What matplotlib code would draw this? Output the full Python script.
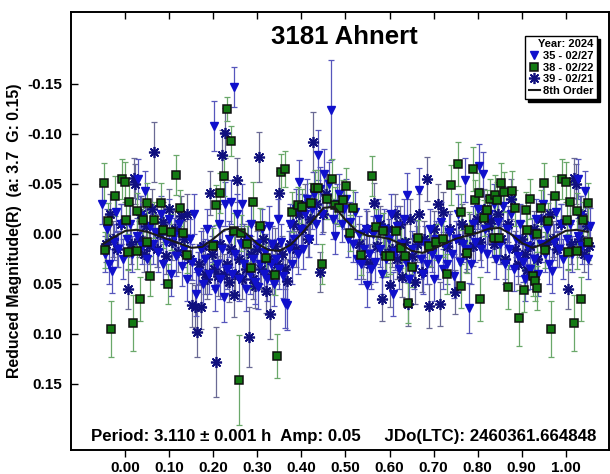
import numpy as np
import matplotlib
matplotlib.use("Agg")
import matplotlib.pyplot as plt
from matplotlib.lines import Line2D

plt.rcParams.update({
    "font.family": "Liberation Sans", "font.weight": "bold",
    "axes.linewidth": 1.4, "xtick.major.width": 1.0, "ytick.major.width": 1.0,
})

# ---- session 35 (2024-02-27): phase, reduced mag, error ----
ph35 = [0.004, 0.010, 0.015, 0.029, 0.027, 0.033, 0.038, 0.044, 0.050, 0.056,
        0.062, 0.068, 0.074, 0.080, 0.086, 0.092, 0.098, 0.104, 0.110, 0.116,
        0.122, 0.128, 0.134, 0.140, 0.146, 0.151, 0.156, 0.161, 0.166, 0.171,
        0.176, 0.181, 0.186, 0.191, 0.196, 0.201, 0.204, 0.208, 0.212, 0.216,
        0.220, 0.223, 0.227, 0.231, 0.235, 0.239, 0.243, 0.247, 0.250, 0.254,
        0.258, 0.262, 0.266, 0.270, 0.274, 0.278, 0.282, 0.286, 0.290, 0.294,
        0.298, 0.302, 0.306, 0.310, 0.314, 0.318, 0.322, 0.326, 0.330, 0.334,
        0.338, 0.342, 0.346, 0.350, 0.354, 0.358, 0.362, 0.367, 0.371, 0.375,
        0.379, 0.383, 0.387, 0.391, 0.395, 0.399, 0.403, 0.408, 0.413, 0.418,
        0.423, 0.428, 0.433, 0.437, 0.442, 0.447, 0.452, 0.457, 0.462, 0.467,
        0.472, 0.476, 0.481, 0.486, 0.491, 0.496, 0.501, 0.506, 0.511, 0.516,
        0.521, 0.526, 0.531, 0.536, 0.541, 0.546, 0.549, 0.553, 0.558, 0.563,
        0.568, 0.573, 0.578, 0.583, 0.588, 0.593, 0.598, 0.603, 0.607, 0.612,
        0.617, 0.622, 0.627, 0.632, 0.637, 0.640, 0.645, 0.650, 0.655, 0.660,
        0.666, 0.671, 0.676, 0.681, 0.686, 0.691, 0.696, 0.701, 0.706, 0.711,
        0.716, 0.721, 0.726, 0.731, 0.736, 0.741, 0.746, 0.751, 0.756, 0.761,
        0.766, 0.772, 0.776, 0.781, 0.785, 0.790, 0.795, 0.800, 0.804, 0.808,
        0.812, 0.817, 0.822, 0.827, 0.832, 0.837, 0.842, 0.847, 0.852, 0.857,
        0.862, 0.867, 0.872, 0.877, 0.882, 0.887, 0.892, 0.897, 0.903, 0.908,
        0.913, 0.918, 0.923, 0.928, 0.933, 0.938, 0.943, 0.948, 0.953, 0.958,
        0.963, 0.969, 0.974, 0.979, 0.984, 0.989, 0.994]
mag35 = [0.005, -0.010, 0.020, -0.055, 0.002, -0.018, 0.012, -0.043, 0.025, -0.008,
         0.010, -0.002, 0.018, -0.020, 0.030, 0.008, -0.015, 0.040, 0.002, 0.022,
         -0.010, 0.032, 0.015, 0.045, 0.005, 0.028, -0.020, 0.060, 0.038, 0.015,
         0.050, 0.025, -0.005, 0.040, 0.010, -0.108, 0.055, 0.030, -0.010, 0.045,
         0.015, 0.063, -0.030, 0.035, 0.005, -0.032, 0.040, -0.147, 0.020, -0.020,
         0.045, 0.010, -0.030, 0.030, 0.055, 0.005, 0.040, -0.010, 0.025, 0.048,
         0.010, 0.053, 0.030, -0.005, 0.040, 0.018, 0.045, -0.008, 0.030, 0.010,
         0.050, 0.025, -0.015, 0.035, 0.008, 0.042, 0.069, 0.071, 0.015, -0.010,
         0.030, 0.005, -0.025, 0.020, -0.052, -0.005, 0.015, -0.020, -0.035, 0.005,
         -0.025, -0.040, -0.010, -0.079, -0.045, -0.020, -0.060, -0.035, -0.050, -0.124,
         -0.015, 0.002, -0.030, -0.040, -0.010, -0.025, -0.035, 0.005, -0.012, 0.010,
         -0.022, 0.025, 0.000, 0.030, 0.015, -0.005, 0.051, 0.020, 0.035, 0.000,
         0.028, -0.015, 0.015, 0.040, -0.005, 0.025, 0.005, -0.020, 0.060, 0.018,
         -0.008, 0.035, 0.010, -0.015, 0.028, -0.039, 0.045, 0.015, 0.035, 0.005,
         -0.044, 0.025, 0.040, 0.010, 0.030, -0.005, 0.020, 0.045, 0.005, 0.025,
         -0.012, 0.035, 0.010, 0.030, -0.002, 0.020, 0.042, 0.005, -0.020, 0.028,
         0.010, -0.054, 0.015, 0.074, 0.030, -0.010, 0.008, -0.025, -0.068, 0.015,
         -0.060, -0.005, 0.020, -0.020, 0.005, -0.030, 0.025, -0.012, 0.010, -0.028,
         0.030, -0.005, 0.015, -0.020, 0.035, 0.005, 0.022, -0.010, 0.028, 0.045,
         0.012, 0.035, 0.002, 0.025, -0.015, 0.040, 0.010, -0.030, 0.020, -0.005,
         0.030, 0.037, 0.008, -0.022, 0.015, -0.010, 0.025]
err35 = [0.018, 0.020, 0.018, 0.020, 0.018, 0.020, 0.018, 0.020, 0.020, 0.018,
         0.020, 0.018, 0.020, 0.018, 0.020, 0.018, 0.020, 0.022, 0.018, 0.020,
         0.018, 0.020, 0.018, 0.022, 0.020, 0.018, 0.020, 0.022, 0.020, 0.018,
         0.022, 0.020, 0.020, 0.020, 0.018, 0.025, 0.022, 0.020, 0.020, 0.020,
         0.018, 0.025, 0.022, 0.020, 0.018, 0.022, 0.020, 0.020, 0.018, 0.020,
         0.022, 0.018, 0.020, 0.020, 0.022, 0.018, 0.020, 0.020, 0.018, 0.022,
         0.018, 0.022, 0.020, 0.020, 0.020, 0.018, 0.022, 0.020, 0.020, 0.018,
         0.022, 0.020, 0.020, 0.020, 0.018, 0.022, 0.025, 0.025, 0.018, 0.020,
         0.020, 0.018, 0.020, 0.020, 0.022, 0.018, 0.020, 0.020, 0.020, 0.018,
         0.020, 0.022, 0.020, 0.025, 0.022, 0.020, 0.025, 0.020, 0.022, 0.050,
         0.020, 0.018, 0.020, 0.020, 0.018, 0.020, 0.020, 0.018, 0.020, 0.018,
         0.020, 0.020, 0.018, 0.020, 0.018, 0.020, 0.022, 0.018, 0.020, 0.018,
         0.020, 0.020, 0.018, 0.020, 0.020, 0.018, 0.020, 0.020, 0.022, 0.018,
         0.020, 0.020, 0.018, 0.020, 0.020, 0.022, 0.022, 0.018, 0.020, 0.018,
         0.022, 0.020, 0.020, 0.018, 0.020, 0.020, 0.018, 0.022, 0.018, 0.020,
         0.020, 0.020, 0.018, 0.020, 0.018, 0.020, 0.022, 0.018, 0.020, 0.020,
         0.018, 0.022, 0.020, 0.025, 0.020, 0.018, 0.020, 0.020, 0.022, 0.018,
         0.022, 0.020, 0.018, 0.020, 0.018, 0.020, 0.020, 0.018, 0.020, 0.020,
         0.020, 0.018, 0.020, 0.020, 0.022, 0.018, 0.020, 0.020, 0.020, 0.022,
         0.018, 0.020, 0.018, 0.020, 0.020, 0.022, 0.018, 0.020, 0.018, 0.020,
         0.020, 0.022, 0.018, 0.020, 0.018, 0.020, 0.020]

# ---- session 38 (2024-02-22) ----
ph38 = [0.000, 0.002, 0.005, 0.009, 0.018, 0.026, 0.026, 0.034, 0.039, 0.050,
        0.050, 0.057, 0.064, 0.081, 0.086, 0.097, 0.103, 0.114, 0.124, 0.130,
        0.139, 0.200, 0.206, 0.214, 0.225, 0.232, 0.240, 0.247, 0.257, 0.262,
        0.277, 0.286, 0.290, 0.305, 0.320, 0.340, 0.345, 0.353, 0.363, 0.379,
        0.392, 0.402, 0.421, 0.430, 0.438, 0.446, 0.458, 0.470, 0.476, 0.486,
        0.494, 0.501, 0.510, 0.517, 0.536, 0.561, 0.569, 0.585, 0.591, 0.601,
        0.614, 0.625, 0.635, 0.641, 0.651, 0.665, 0.690, 0.705, 0.722, 0.731,
        0.739, 0.755, 0.763, 0.763, 0.775, 0.781, 0.790, 0.794, 0.804, 0.806,
        0.814, 0.821, 0.829, 0.837, 0.839, 0.845, 0.848, 0.854, 0.860, 0.869,
        0.879, 0.886, 0.895, 0.905, 0.911, 0.913, 0.918, 0.926, 0.931, 0.934,
        0.936, 0.944, 0.951, 0.954, 0.960, 0.967, 0.976, 0.992]
mag38 = [-0.052, -0.014, 0.018, -0.032, 0.089, 0.017, -0.023, 0.065, -0.014, -0.031,
         0.008, 0.042, -0.014, -0.031, -0.004, 0.050, -0.002, -0.059, -0.026, -0.001,
         0.021, 0.012, -0.029, -0.041, -0.058, -0.125, -0.093, -0.003, 0.146, -0.001,
         0.010, 0.034, -0.032, -0.008, 0.024, 0.041, 0.122, -0.062, -0.065, -0.022,
         -0.029, -0.027, -0.031, -0.046, -0.046, 0.030, -0.035, -0.055, -0.029, -0.026,
         -0.034, -0.048, -0.001, -0.026, 0.021, -0.058, -0.007, -0.003, 0.022, 0.022,
         -0.003, 0.014, 0.022, 0.069, 0.033, 0.004, 0.012, 0.008, 0.005, 0.040,
         -0.049, -0.070, -0.022, 0.052, 0.019, -0.004, -0.065, -0.034, -0.041, 0.065,
         -0.016, -0.024, -0.035, 0.004, -0.039, -0.034, 0.004, -0.051, -0.042, 0.053,
         -0.043, -0.026, 0.084, 0.056, -0.024, -0.004, -0.035, 0.042, 0.047, 0.054,
         0.000, -0.026, -0.051, 0.016, -0.013, 0.095, -0.038, -0.055]
err38 = [0.020, 0.018, 0.018, 0.020, 0.028, 0.018, 0.018, 0.022, 0.018, 0.020,
         0.018, 0.020, 0.018, 0.020, 0.018, 0.020, 0.018, 0.020, 0.018, 0.018,
         0.018, 0.018, 0.020, 0.020, 0.020, 0.012, 0.015, 0.018, 0.045, 0.018,
         0.018, 0.020, 0.020, 0.018, 0.020, 0.020, 0.022, 0.018, 0.018, 0.020,
         0.018, 0.018, 0.020, 0.018, 0.018, 0.020, 0.020, 0.020, 0.018, 0.018,
         0.020, 0.018, 0.018, 0.018, 0.020, 0.020, 0.018, 0.018, 0.020, 0.018,
         0.018, 0.020, 0.018, 0.020, 0.020, 0.018, 0.020, 0.018, 0.018, 0.020,
         0.020, 0.022, 0.018, 0.022, 0.020, 0.018, 0.022, 0.020, 0.020, 0.022,
         0.018, 0.020, 0.020, 0.018, 0.020, 0.018, 0.018, 0.020, 0.020, 0.022,
         0.020, 0.018, 0.028, 0.022, 0.018, 0.018, 0.020, 0.020, 0.020, 0.022,
         0.018, 0.018, 0.020, 0.018, 0.018, 0.028, 0.020, 0.020]

# ---- session 39 (2024-02-21) ----
ph39 = [0.006, 0.012, 0.019, 0.023, 0.030, 0.036, 0.042, 0.048, 0.054, 0.060,
        0.066, 0.072, 0.078, 0.085, 0.092, 0.099, 0.106, 0.112, 0.119, 0.126,
        0.133, 0.140, 0.147, 0.152, 0.159, 0.163, 0.167, 0.171, 0.176, 0.181,
        0.186, 0.192, 0.197, 0.201, 0.205, 0.210, 0.215, 0.220, 0.224, 0.227,
        0.232, 0.236, 0.241, 0.246, 0.250, 0.254, 0.259, 0.264, 0.270, 0.275,
        0.280, 0.285, 0.290, 0.294, 0.299, 0.303, 0.308, 0.313, 0.320, 0.325,
        0.329, 0.334, 0.340, 0.345, 0.350, 0.356, 0.362, 0.368, 0.374, 0.380,
        0.387, 0.394, 0.401, 0.408, 0.415, 0.420, 0.426, 0.434, 0.441, 0.448,
        0.455, 0.530, 0.540, 0.548, 0.556, 0.565, 0.572, 0.578, 0.583, 0.590,
        0.596, 0.600, 0.606, 0.612, 0.618, 0.624, 0.629, 0.635, 0.641, 0.647,
        0.652, 0.657, 0.663, 0.668, 0.673, 0.679, 0.684, 0.689, 0.695, 0.702,
        0.709, 0.714, 0.722, 0.730, 0.738, 0.748, 0.757, 0.765, 0.773, 0.782,
        0.790, 0.798, 0.806, 0.815, 0.823, 0.830, 0.838, 0.846, 0.854, 0.862,
        0.870, 0.876, 0.884, 0.892, 0.900, 0.907, 0.913, 0.920, 0.928, 0.936,
        0.945, 0.955, 0.964, 0.972, 0.980, 0.990]
mag39 = [0.055, 0.010, -0.056, -0.050, 0.005, -0.020, 0.020, -0.008, 0.012, -0.025,
         -0.082, 0.015, 0.000, -0.012, 0.022, -0.025, 0.008, -0.005, 0.018, -0.018,
         0.005, -0.020, 0.025, 0.071, 0.073, 0.098, 0.030, 0.073, 0.012, 0.040,
         0.045, -0.041, 0.020, 0.035, 0.128, 0.042, 0.010, -0.079, 0.040, -0.101,
         0.030, 0.048, 0.015, 0.061, 0.040, -0.054, 0.025, 0.045, 0.008, 0.035,
         0.103, 0.020, 0.045, 0.052, 0.015, -0.077, 0.035, 0.005, 0.057, 0.025,
         0.080, 0.040, 0.012, 0.030, -0.041, 0.020, 0.035, 0.047, 0.010, -0.010,
         0.015, -0.020, -0.005, -0.030, 0.005, -0.015, -0.092, -0.030, 0.038, -0.020,
         -0.040, 0.010, 0.025, -0.005, 0.030, -0.031, 0.012, -0.010, 0.065, 0.020,
         -0.005, 0.051, 0.015, -0.020, 0.025, -0.010, 0.043, 0.008, 0.070, -0.015,
         0.022, 0.048, 0.010, -0.020, 0.038, 0.005, -0.055, 0.072, 0.015, -0.005,
         -0.030, 0.070, -0.022, 0.012, -0.005, 0.058, 0.005, -0.010, 0.020, -0.002,
         0.012, -0.015, 0.008, -0.025, -0.008, -0.014, 0.010, -0.020, 0.005, 0.025,
         -0.010, -0.035, 0.015, 0.030, 0.005, 0.020, 0.036, 0.012, -0.005, 0.025,
         -0.015, 0.010, -0.020, 0.005, 0.015, -0.010]
err39 = [0.020, 0.020, 0.020, 0.020, 0.018, 0.018, 0.018, 0.018, 0.018, 0.020,
         0.030, 0.018, 0.018, 0.020, 0.018, 0.020, 0.018, 0.018, 0.020, 0.020,
         0.018, 0.020, 0.020, 0.022, 0.022, 0.025, 0.020, 0.022, 0.018, 0.020,
         0.020, 0.022, 0.018, 0.020, 0.035, 0.020, 0.018, 0.025, 0.020, 0.025,
         0.020, 0.020, 0.018, 0.022, 0.020, 0.022, 0.020, 0.020, 0.018, 0.020,
         0.030, 0.018, 0.020, 0.022, 0.018, 0.025, 0.020, 0.018, 0.022, 0.020,
         0.025, 0.020, 0.018, 0.020, 0.022, 0.018, 0.020, 0.022, 0.018, 0.020,
         0.018, 0.020, 0.018, 0.020, 0.018, 0.020, 0.030, 0.020, 0.020, 0.018,
         0.020, 0.020, 0.020, 0.018, 0.020, 0.020, 0.018, 0.018, 0.022, 0.018,
         0.018, 0.022, 0.018, 0.020, 0.020, 0.018, 0.020, 0.018, 0.022, 0.020,
         0.018, 0.022, 0.018, 0.020, 0.020, 0.018, 0.022, 0.022, 0.018, 0.018,
         0.020, 0.022, 0.020, 0.018, 0.018, 0.022, 0.018, 0.020, 0.018, 0.018,
         0.020, 0.020, 0.018, 0.020, 0.018, 0.020, 0.018, 0.020, 0.018, 0.020,
         0.018, 0.020, 0.018, 0.020, 0.018, 0.020, 0.020, 0.018, 0.018, 0.020,
         0.018, 0.018, 0.020, 0.018, 0.018, 0.020]

# 8th-order Fourier fit, sampled every 0.025 in phase
fit_ph = [0.000, 0.025, 0.050, 0.075, 0.100, 0.125, 0.150, 0.175, 0.200, 0.225,
          0.250, 0.275, 0.300, 0.325, 0.350, 0.375, 0.400, 0.425, 0.450, 0.475,
          0.500, 0.525, 0.550, 0.575, 0.600, 0.625, 0.650, 0.675, 0.700, 0.725,
          0.750, 0.775, 0.800, 0.825, 0.850, 0.875, 0.900, 0.925, 0.950, 0.975]
fit_mag = [-0.003, -0.004, -0.002, 0.002, 0.006, 0.010, 0.014, 0.013, 0.005, -0.004,
           -0.006, 0.000, 0.010, 0.016, 0.017, 0.011, 0.000, -0.013, -0.026, -0.027,
           -0.014, -0.003, 0.002, 0.003, 0.005, 0.010, 0.017, 0.019, 0.015, 0.010,
           0.005, 0.002, -0.001, -0.005, -0.006, 0.000, 0.009, 0.014, 0.010, 0.003]

PH_LO, PH_HI = -0.055, 1.056

STAR = (8, 2, 0)


def wrap(ph, *cols):
    """Repeat phased data one cycle either side and keep what falls in view."""
    ph = np.asarray(ph)
    x = np.concatenate([ph - 1, ph, ph + 1])
    keep = (x >= PH_LO) & (x <= PH_HI)
    order = np.argsort(x[keep], kind="stable")
    out = [x[keep][order]]
    for c in cols:
        out.append(np.tile(np.asarray(c), 3)[keep][order])
    return out


fig = plt.figure(figsize=(6.10, 4.74), dpi=100)
ax = fig.add_axes([0.116, 0.051, 0.882, 0.924])

x, y, e = wrap(ph39, mag39, err39)
ax.errorbar(x, y, yerr=e, fmt="none", ecolor="#6a6a94", elinewidth=0.9,
            capsize=2.2, capthick=0.9, zorder=2)
ax.plot(x, y, ls="none", marker=STAR, ms=8, mew=1.25, color="#10107e", zorder=3)

x, y, e = wrap(ph35, mag35, err35)
ax.errorbar(x, y, yerr=e, fmt="none", ecolor="#5656bc", elinewidth=0.9,
            capsize=2.2, capthick=0.9, zorder=2)
ax.plot(x, y, ls="none", marker="v", ms=6, color="#1010cc", mec="#1010cc", zorder=3)

x, y, e = wrap(ph38, mag38, err38)
ax.errorbar(x, y, yerr=e, fmt="none", ecolor="#6aa86a", elinewidth=0.9,
            capsize=2.2, capthick=0.9, zorder=2)
ax.plot(x, y, ls="none", marker="s", ms=6, color="#137a13", mec="#101010",
        mew=1.1, zorder=4)

fx, fy = wrap(fit_ph, fit_mag)
ax.plot(fx, fy, color="#1a1a1a", lw=1.5, zorder=5)

ax.set_xlim(-0.124, 1.098)
ax.set_ylim(0.216, -0.222)
xt = np.arange(0, 1.01, 0.1)
ax.set_xticks(xt)
ax.set_xticklabels([f"{t:.2f}" for t in xt])
ax.set_yticks([-0.15, -0.10, -0.05, 0.0, 0.05, 0.10, 0.15])
ax.set_yticklabels(["-0.15", "-0.10", "-0.05", "0.00", "0.05", "0.10", "0.15"])
ax.tick_params(axis="x", direction="out", length=5, top=True, labelsize=11, pad=3)
ax.tick_params(axis="y", direction="in", length=5, labelsize=11, pad=6)
for t in ax.xaxis.get_major_ticks():
    t.tick2line.set_marker(3)  # top marks point down into the plot
for lab in ax.get_xticklabels() + ax.get_yticklabels():
    lab.set_fontweight("bold")

ax.set_ylabel("Reduced Magnitude(R)  (a: 3.7  G: 0.15)", fontsize=11.4,
              fontweight="bold", labelpad=4)
ax.text(0.509, 0.942, "3181 Ahnert", transform=ax.transAxes, ha="center",
        va="center", fontsize=18.5, fontweight="bold")
ax.text(0.038, 0.030, "Period: 3.110 \u00b1 0.001 h  Amp: 0.05     JDo(LTC): 2460361.664848",
        transform=ax.transAxes, ha="left", va="center", fontsize=12.2, fontweight="bold")

handles = [
    Line2D([], [], ls="none", marker="v", ms=6, color="#1010cc"),
    Line2D([], [], ls="none", marker="s", ms=6, color="#137a13", mec="#101010", mew=1.1),
    Line2D([], [], ls="none", marker=STAR, ms=8, mew=1.25, color="#10107e"),
    Line2D([], [], color="#1a1a1a", lw=1.5),
]
leg = ax.legend(handles, ["35 - 02/27", "38 - 02/22", "39 - 02/21", "8th Order"],
                title="Year: 2024", alignment="right", loc="upper right",
                bbox_to_anchor=(0.978, 0.945), title_fontsize=8,
                prop={"weight": "bold", "size": 8}, handlelength=1.0,
                handletextpad=0.3, labelspacing=0.15, borderpad=0.3,
                borderaxespad=0, fancybox=False, framealpha=1, edgecolor="black",
                shadow={"color": "black", "alpha": 1})
leg.get_title().set_fontweight("bold")
leg.get_frame().set_linewidth(1.0)

fig.savefig("out.png", dpi=100)
